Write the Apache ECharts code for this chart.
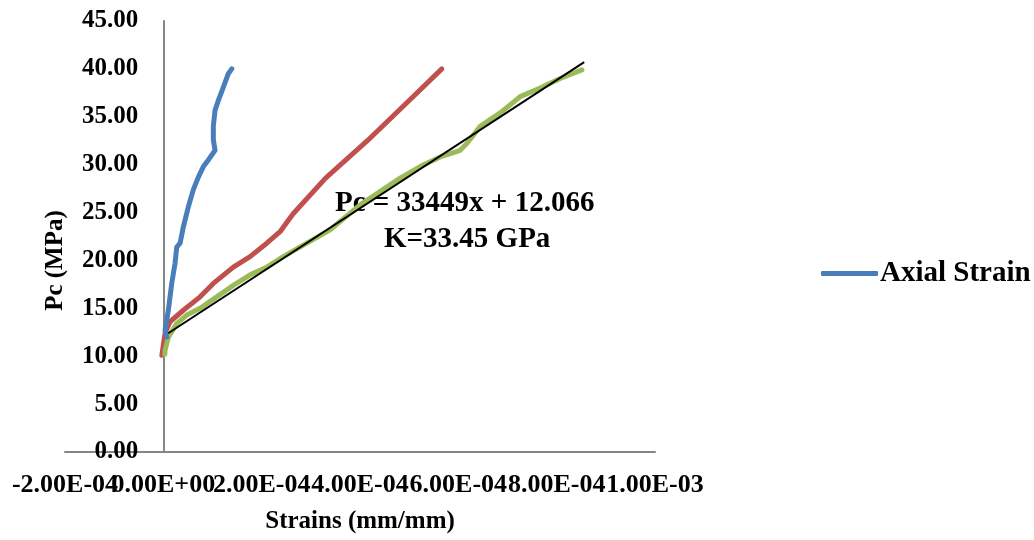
<!DOCTYPE html>
<html>
<head>
<meta charset="utf-8">
<script src="https://cdn.jsdelivr.net/npm/echarts@6/dist/echarts.min.js"></script>
<style>
  html, body { margin: 0; padding: 0; background: #fff; }
  #chart { width: 1034px; height: 540px; }
</style>
</head>
<body>
<div id="chart"></div>
<script>
  // strain (mm/mm) vs confining pressure Pc (MPa)
  var axialStrain = [0.000007, 0.0000035, 0.0000102, 0.0000171, 0.0000238, 0.0000273, 0.000034, 0.0000407,
    0.0000509, 0.000061, 0.0000712, 0.0000814, 0.0000916, 0.0001052, 0.0001017, 0.0001017, 0.0001052,
    0.0001119, 0.0001221, 0.0001322, 0.0001392];
  var axialPc = [12.0, 12.7, 14.8, 17.6, 19.7, 21.4, 21.8, 23.5,
    25.6, 27.4, 28.7, 29.8, 30.5, 31.5, 32.6, 34.0, 35.7,
    36.7, 38.1, 39.5, 40.0];

  var redStrain = [-0.000003, 0.0000035, 0.0000136, 0.0000407, 0.0000747, 0.0001017, 0.0001424, 0.0001764,
    0.0002104, 0.0002374, 0.0002543, 0.0002645, 0.00033, 0.000415, 0.00049, 0.0005664];
  var redPc = [10.1, 12.4, 13.6, 14.8, 16.2, 17.6, 19.3, 20.4,
    21.8, 23.0, 24.2, 24.9, 28.6, 32.5, 36.2, 40.0];

  var greenStrain = [0.000003, 0.0000035, 0.0000102, 0.0000273, 0.0000476, 0.0000747, 0.0001086, 0.0001424,
    0.0001764, 0.0002104, 0.0002441, 0.0002918, 0.0003392, 0.0004003, 0.0004816, 0.0005223, 0.000563,
    0.0006037, 0.0006173, 0.0006444, 0.0006851, 0.0007258, 0.0007664, 0.0008071, 0.0008513];
  var greenPc = [10.2, 10.6, 12.0, 13.4, 14.3, 15.0, 16.2, 17.4,
    18.5, 19.3, 20.4, 21.8, 23.2, 25.8, 28.6, 29.8, 30.8,
    31.5, 32.2, 34.0, 35.4, 37.1, 38.0, 39.0, 39.9];

  // linear trendline of the green curve
  var trendSlope = 33449;
  var trendIntercept = 12.066;
  var trendRange = [0.00001, 0.000856];

  var xTickValues = [-0.0002, 0, 0.0002, 0.0004, 0.0006, 0.0008, 0.001];
  var xTicks = { min: -0.0002, max: 0.001, interval: 0.0002 };
  var yTicks = { min: 0, max: 45, interval: 5 };

  function pairs(xs, ys) {
    return xs.map(function (x, i) { return [x, ys[i]]; });
  }

  function sci(v) {
    if (Math.abs(v) < 1e-12) return '0.00E+00';
    var s = v.toExponential(2).split('e');
    var exp = parseInt(s[1], 10);
    var sign = exp < 0 ? '-' : '+';
    var e = Math.abs(exp);
    return s[0] + 'E' + sign + (e < 10 ? '0' + e : e);
  }

  var font = 'Liberation Serif';
  var trendData = trendRange.map(function (x) { return [x, trendSlope * x + trendIntercept]; });

  // the tick labels overlap like in Excel; echarts drops a label that
  // overlaps the min label, so the ticks are split over two stacked axes
  var evenTicks = xTickValues.filter(function (v, i) { return i % 2 === 0; });
  var oddTicks = xTickValues.filter(function (v, i) { return i % 2 === 1; });

  function xAxisFor(ticks, main) {
    return {
      type: 'value',
      position: 'bottom',
      min: xTicks.min,
      max: xTicks.max,
      interval: xTicks.interval,
      name: main ? 'Strains (mm/mm)' : '',
      nameLocation: 'middle',
      nameGap: 57,
      nameTextStyle: { fontFamily: font, fontWeight: 'bold', fontSize: 25, color: '#000' },
      axisLine: { show: main, onZero: false, lineStyle: { color: '#868686', width: 2 } },
      axisTick: { show: false },
      splitLine: { show: false },
      axisLabel: {
        customValues: ticks,
        formatter: sci,
        margin: 20,
        showMinLabel: true,
        showMaxLabel: true,
        fontFamily: font, fontWeight: 'bold', fontSize: 26, color: '#000'
      }
    };
  }

  var option = {
    animation: false,
    backgroundColor: '#ffffff',
    grid: { left: 65, right: 379, top: 21, bottom: 88, outerBoundsMode: 'none', containLabel: false },
    legend: {
      data: ['Axial Strain'],
      left: 816,
      top: 254,
      icon: 'roundRect',
      itemWidth: 57,
      itemHeight: 5,
      textStyle: { fontFamily: font, fontWeight: 'bold', fontSize: 29, color: '#000', padding: [0, 0, 0, -3] }
    },
    xAxis: [xAxisFor(evenTicks, true), xAxisFor(oddTicks, false)],
    yAxis: {
      type: 'value',
      min: yTicks.min,
      max: yTicks.max,
      interval: yTicks.interval,
      offset: -98.3,
      name: 'Pc (MPa)',
      nameLocation: 'middle',
      nameGap: 95,
      nameTextStyle: { fontFamily: font, fontWeight: 'bold', fontSize: 25, color: '#000', padding: [0, 48, 0, 0] },
      axisLine: { show: true, onZero: false, lineStyle: { color: '#868686', width: 2 } },
      axisTick: { show: false },
      splitLine: { show: false },
      axisLabel: {
        formatter: function (v) { return v.toFixed(2); },
        margin: 25,
        fontFamily: font, fontWeight: 'bold', fontSize: 25, color: '#000'
      }
    },
    graphic: [
      {
        type: 'text', left: 335, top: 189,
        style: { text: 'Pc = 33449x + 12.066', font: 'bold 29px "Liberation Serif"', fill: '#000' }
      },
      {
        type: 'text', left: 384, top: 225,
        style: { text: 'K=33.45 GPa', font: 'bold 29px "Liberation Serif"', fill: '#000' }
      }
    ],
    series: [
      {
        name: 'Lateral Strain',
        type: 'line',
        data: pairs(redStrain, redPc),
        symbol: 'none',
        lineStyle: { color: '#C0504D', width: 5, cap: 'round', join: 'round' },
        itemStyle: { color: '#C0504D' }
      },
      {
        name: 'Volumetric Strain',
        type: 'line',
        data: pairs(greenStrain, greenPc),
        symbol: 'none',
        lineStyle: { color: '#9BBB59', width: 5, cap: 'round', join: 'round' },
        itemStyle: { color: '#9BBB59' }
      },
      {
        name: 'Axial Strain',
        type: 'line',
        data: pairs(axialStrain, axialPc),
        symbol: 'none',
        lineStyle: { color: '#4A7EBB', width: 5, cap: 'round', join: 'round' },
        itemStyle: { color: '#4A7EBB' }
      },
      {
        name: 'Linear (Volumetric Strain)',
        type: 'line',
        data: trendData,
        symbol: 'none',
        lineStyle: { color: '#000', width: 2 },
        itemStyle: { color: '#000' },
        z: 5
      }
    ]
  };

  var myChart = echarts.init(document.getElementById('chart'));
  myChart.setOption(option);
</script>
</body>
</html>
